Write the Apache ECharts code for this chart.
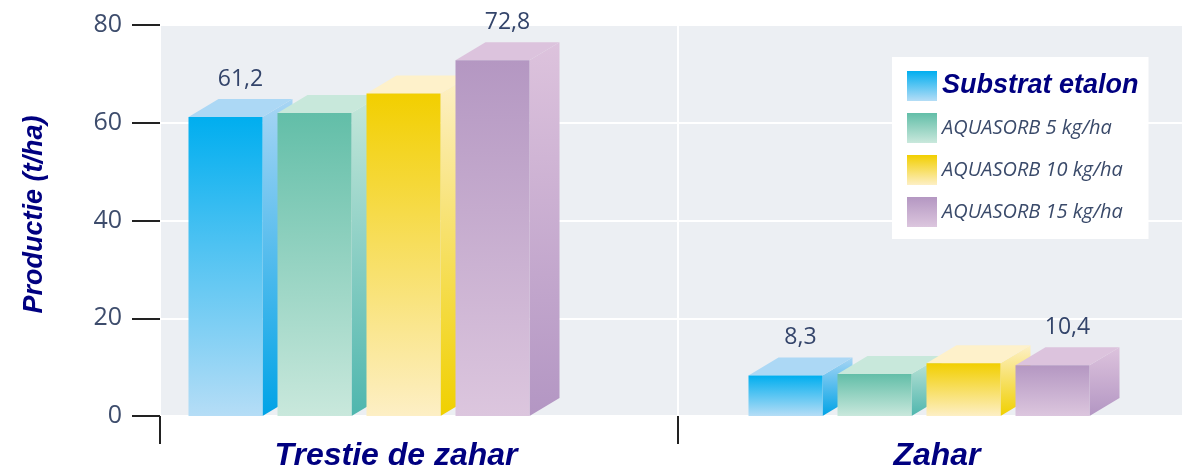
<!DOCTYPE html>
<html>
<head>
<meta charset="utf-8">
<script src="https://cdn.jsdelivr.net/npm/echarts@6/dist/echarts.min.js"></script>
<style>
  html, body { margin: 0; padding: 0; background: #fff; }
  #chart { width: 1182px; height: 472px; }
</style>
</head>
<body>
<div id="chart"></div>
<script>
const categories = ['Trestie de zahar', 'Zahar'];
const seriesNames = ['Substrat etalon', 'AQUASORB 5 kg/ha', 'AQUASORB 10 kg/ha', 'AQUASORB 15 kg/ha'];
const etalon = [61.2, 8.3];
const aqua5 = [62, 8.6];
const aqua10 = [66, 10.8];
const aqua15 = [72.8, 10.4];
const allValues = [etalon, aqua5, aqua10, aqua15];
// only the first and last bar of each group carries a value label
const labelled = [true, false, false, true];

// pseudo 3d look
const barW = 74, step = 89, dx = 30, dy = 18;
const groupShift = [-60, -18];

const palettes = [
  { front: ['#00aeef', '#b5ddf6'], side: ['#a8d5f4', '#00a3e6'], top: '#acd8f5' },
  { front: ['#62bea8', '#c9e8dc'], side: ['#c5e7da', '#4fb6ae'], top: '#c8e8db' },
  { front: ['#f2cf00', '#fdefc5'], side: ['#fdf0c8', '#f0d000'], top: '#fef1ca' },
  { front: ['#b497c2', '#dcc6de'], side: ['#ddc3dd', '#b396c3'], top: '#dcc3dd' }
];

function grad(c) {
  return new echarts.graphic.LinearGradient(0, 0, 0, 1, [
    { offset: 0, color: c[0] }, { offset: 1, color: c[1] }
  ]);
}

function renderBar(params, api) {
  const s = params.seriesIndex;
  const cat = api.value(0);
  const val = api.value(1);
  const p = palettes[s];
  const top = api.coord([cat, val]);
  const base = api.coord([cat, 0]);
  const x = top[0] + groupShift[cat] + (s - 1.5) * step - barW / 2;
  const yT = top[1], yB = base[1];
  const children = [
    {
      type: 'polygon',
      shape: { points: [[x + barW, yT], [x + barW + dx, yT - dy], [x + barW + dx, yB - dy], [x + barW, yB]] },
      style: { fill: grad(p.side) }
    },
    {
      type: 'polygon',
      shape: { points: [[x, yT], [x + barW, yT], [x + barW + dx, yT - dy], [x + dx, yT - dy]] },
      style: { fill: p.top }
    },
    {
      type: 'rect',
      shape: { x: x, y: yT, width: barW, height: yB - yT },
      style: { fill: grad(p.front) }
    }
  ];
  if (labelled[s]) {
    children.push({
      type: 'text',
      x: x + barW / 2 + dx / 2,
      y: yT - dy - 8,
      style: {
        text: String(val).replace('.', ','),
        fill: '#33446a',
        font: '23px "Open Sans"',
        align: 'center',
        verticalAlign: 'bottom'
      }
    });
  }
  return { type: 'group', children: children };
}

const chart = echarts.init(document.getElementById('chart'));

const titleFont = { fontFamily: 'Liberation Sans', fontWeight: 'bold', fontStyle: 'italic', color: '#000080' };

chart.setOption({
  animation: false,
  grid: {
    left: 160, top: 25, width: 1036, height: 391,
    outerBoundsMode: 'none', containLabel: false,
    show: true, backgroundColor: '#eceff3', borderWidth: 0
  },
  legend: {
    orient: 'vertical',
    left: 892, top: 57,
    padding: [14, 10, 12, 15],
    backgroundColor: '#fff',
    itemWidth: 30, itemHeight: 30, itemGap: 12,
    icon: 'rect',
    data: seriesNames,
    formatter: name => (name === seriesNames[0] ? '{t|' + name + '}' : '{n|' + name + '}'),
    textStyle: {
      rich: {
        t: Object.assign({ fontSize: 27 }, titleFont),
        n: { fontFamily: 'Open Sans', fontStyle: 'italic', fontSize: 20, color: '#3a4a6a' }
      }
    }
  },
  xAxis: {
    type: 'category',
    data: categories,
    axisLine: { show: false },
    axisTick: { show: true, length: 28, lineStyle: { color: '#222', width: 2 } },
    splitLine: { show: true, lineStyle: { color: '#fff', width: 2 } },
    axisLabel: {
      margin: 24,
      formatter: (v, i) => (i === 0 ? '{a|' + v + '}' : '{b|' + v + '}'),
      rich: {
        a: Object.assign({ fontSize: 32, padding: [0, 46, 0, 0] }, titleFont),
        b: Object.assign({ fontSize: 32 }, titleFont)
      }
    }
  },
  yAxis: {
    type: 'value',
    min: 0, max: 80, interval: 20,
    name: 'Productie (t/ha)',
    nameLocation: 'middle',
    nameRotate: 90,
    nameGap: 112,
    nameTextStyle: Object.assign({ fontSize: 27, padding: [0, 0, 0, 12] }, titleFont),
    axisLine: { show: false },
    axisTick: { show: true, length: 28, lineStyle: { color: '#222', width: 2 } },
    axisLabel: { margin: 38, fontFamily: 'Open Sans', fontSize: 25, color: '#3d4c6c' },
    splitLine: { show: true, lineStyle: { color: '#fff', width: 2 } }
  },
  series: seriesNames.map((n, s) => ({
    name: n,
    type: 'custom',
    renderItem: renderBar,
    encode: { x: 0, y: 1 },
    itemStyle: { color: grad(palettes[s].front) },
    data: allValues[s].map((v, i) => [i, v])
  }))
});
</script>
</body>
</html>
